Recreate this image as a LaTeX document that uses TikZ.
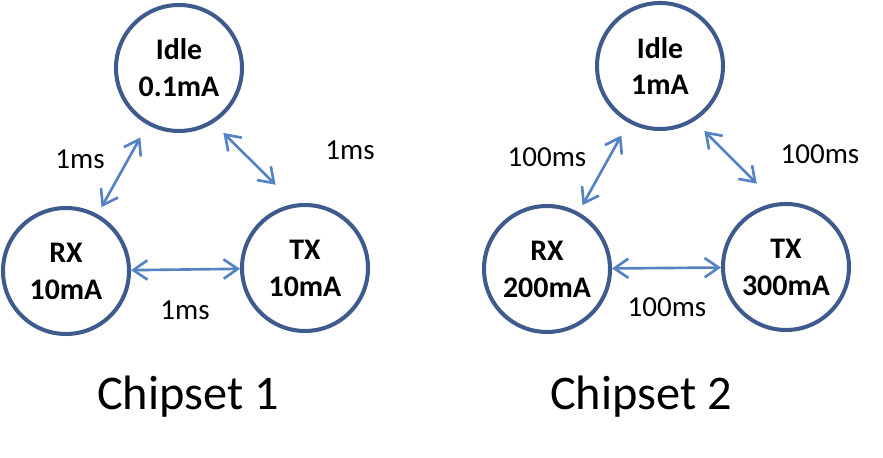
\documentclass[tikz,border=0pt]{standalone}
\usepackage{fontspec}
\setmainfont{Carlito}
\usetikzlibrary{shapes,arrows.meta,positioning}
\definecolor{ringblue}{HTML}{3F5B8E}
\definecolor{arrowblue}{HTML}{5383C3}
\tikzstyle{state} = [circle, draw=ringblue, line width=2.3pt, minimum size=2.52cm, inner sep=0pt, align=center, font=\bfseries\fontsize{17}{21}\selectfont]
\tikzstyle{link} = [draw=arrowblue, line width=1.5pt, {Straight Barb[length=8pt,width=11pt]}-{Straight Barb[length=8pt,width=11pt]}]
\tikzstyle{delay} = [inner sep=0pt, font=\fontsize{16.5}{20}\selectfont]
\tikzstyle{title} = [inner sep=0pt, anchor=base, font=\fontsize{27.5}{33}\selectfont]

\begin{document}
\begin{tikzpicture}
	\useasboundingbox (0,0) rectangle (17.66,9.16);
	% chipset 1
	\node [state] (idleA) at (3.58, 7.80) {Idle\\0.1mA};
	\node [state] (rxA) at (1.32, 3.74) {RX\\10mA};
	\node [state] (txA) at (6.10, 3.80) {TX\\10mA};
	\node [delay] (rxidleA) at (1.60, 5.98) {1ms};
	\node [delay] (idletxA) at (7.00, 6.16) {1ms};
	\node [delay] (rxtxA) at (3.70, 2.96) {1ms};
	\node [title] (titleA) at (3.76, 0.96) {Chipset 1};

	\path [link, shorten <=0.16cm, shorten >=0.29cm] (rxA) -- (idleA);
	\path [link, shorten <=0.28cm, shorten >=0.54cm] (idleA.-58) -- (txA.99);
	\path [link] (rxA) -- (txA);

	% chipset 2
	\node [state] (idleB) at (13.20, 7.84) {Idle\\1mA};
	\node [state] (rxB) at (10.94, 3.78) {RX\\200mA};
	\node [state] (txB) at (15.72, 3.82) {TX\\300mA};
	\node [delay] (rxidleB) at (10.94, 6.02) {100ms};
	\node [delay] (idletxB) at (16.40, 6.08) {100ms};
	\node [delay] (rxtxB) at (13.34, 3.02) {100ms};
	\node [title] (titleB) at (12.82, 0.96) {Chipset 2};

	\path [link, shorten <=0.16cm, shorten >=0.29cm] (rxB) -- (idleB);
	\path [link, shorten <=0.28cm, shorten >=0.54cm] (idleB.-58) -- (txB.99);
	\path [link] (rxB) -- (txB);
\end{tikzpicture}
\end{document}
